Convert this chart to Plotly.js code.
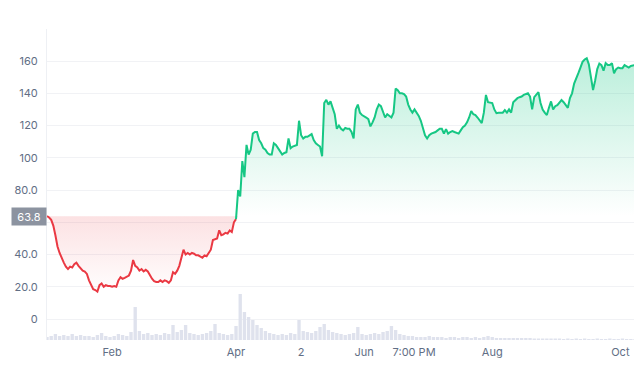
<!DOCTYPE html>
<html>
<head>
<meta charset="utf-8">
<script src="https://cdn.plot.ly/plotly-3.0.1.min.js"></script>
<style>
html,body{margin:0;padding:0;background:#fff;}
#chart{width:634px;height:366px;}
</style>
</head>
<body>
<div id="chart"></div>
<script>
// ---- data ----
const startDate = '2021-01-01';
const baseline = 63.8;
// daily price samples from startDate
const price = [
  63.8, 63, 61.5, 58, 52, 45, 41, 37.5, 35, 32.5,
  31, 32.5, 32, 34, 35, 33, 31.5, 30, 29.5, 28,
  24, 21, 18.5, 18, 17, 21, 22, 20, 21, 20.5,
  20.5, 20, 20.5, 20, 24, 26, 25, 25.5, 26, 27,
  30, 36.6, 33, 32, 30, 31, 29.5, 30.5, 29.5, 27,
  25, 23.5, 23, 23, 24, 23, 24, 23.5, 22.5, 24,
  29, 28, 30, 33, 38, 43, 40, 41, 40, 41,
  40.5, 39.5, 39.5, 38.5, 38, 39.5, 39, 41, 43, 49,
  49.5, 50, 55, 52, 52.5, 53.5, 53, 55, 54, 60,
  62, 80, 76, 98, 88, 108, 102, 105, 115, 116,
  116, 111, 109, 106, 105, 103, 102, 102, 109, 108,
  106, 104, 102, 103, 103.5, 112, 106, 107, 107.5, 108,
  123, 114, 112, 113, 113, 114, 114.7, 111, 109, 108,
  107, 101, 134, 136, 133, 135, 131, 127, 118, 120,
  118, 117, 118.5, 118, 118, 116, 112, 130, 133, 128,
  126.5, 126, 125, 124, 119.5, 122, 125, 130, 133, 132,
  129, 125, 127, 126, 125, 128, 143, 142, 140, 140,
  139.5, 138, 133, 130, 128, 130, 128, 126, 123, 118,
  114, 112, 114, 115, 115.5, 116, 117, 118, 118, 115,
  117.8, 115, 116, 116.6, 116, 115.5, 115, 117, 119, 120,
  122, 125, 129, 127, 126.5, 125, 123, 121.5, 128, 139,
  134.5, 134, 134, 130, 127.7, 128, 128, 128, 129.6, 128,
  130, 128, 134.5, 136, 137, 137.6, 138, 139, 139.5, 140,
  138, 130, 137.6, 139, 140.7, 134, 130, 128, 126.5, 131,
  135, 130, 132, 132.7, 134, 135.8, 134.5, 133, 131, 137,
  140, 146, 150, 152.5, 156, 159.5, 161, 161.8, 158, 150,
  142, 148, 155, 158.5, 157.5, 154, 158.7, 157.5, 157.5, 158.7,
  152.5, 155, 156, 155.6, 155.6, 157.5, 157, 156, 157, 157.5,
  157.5
];
// volume (millions, relative), one value every 2 days from startDate
const volume = [
  0.3, 0.4, 0.6, 0.4, 0.5, 0.4, 0.6, 0.4, 0.5, 0.4,
  0.4, 0.3, 0.5, 0.7, 0.4, 0.3, 0.4, 0.6, 0.5, 0.4,
  0.8, 3.3, 0.9, 0.6, 0.7, 0.5, 0.6, 0.5, 0.7, 0.6,
  1.5, 0.8, 1.0, 1.5, 0.7, 0.6, 0.5, 0.6, 0.7, 0.9,
  1.6, 0.7, 0.6, 0.5, 0.6, 1.4, 4.6, 2.8, 2.3, 2.0,
  1.5, 1.2, 0.9, 0.7, 0.6, 0.5, 0.6, 0.5, 0.7, 0.6,
  2.0, 0.9, 0.8, 0.7, 0.9, 1.3, 1.6, 1.0, 0.8, 0.7,
  0.6, 0.5, 0.6, 0.7, 1.3, 0.6, 0.5, 0.6, 0.7, 0.6,
  0.8, 0.9, 1.4, 1.0, 0.6, 0.5, 0.4, 0.4, 0.3, 0.3,
  0.3, 0.4, 0.3, 0.3, 0.3, 0.2, 0.3, 0.3, 0.2, 0.3,
  0.3, 0.2, 0.3, 0.2, 0.3, 0.4, 0.3, 0.2, 0.2, 0.2,
  0.2, 0.2, 0.2, 0.2, 0.2, 0.2, 0.15, 0.15, 0.15, 0.15,
  0.15, 0.15, 0.15, 0.1, 0.15, 0.1, 0.15, 0.1, 0.15, 0.1,
  0.1, 0.15, 0.1, 0.1, 0.15, 0.1, 0.1, 0.15, 0.1, 0.1,
  0.1
];
const tickDates = ['2021-02-01', '2021-04-01', '2021-05-02', '2021-06-01', '2021-06-24 19:00', '2021-08-01', '2021-10-01'];
const tickLabels = ['Feb', 'Apr', '2', 'Jun', '7:00 PM', 'Aug', 'Oct'];
const yTickVals = [0, 20, 40, 60, 80, 100, 120, 140, 160];
const yTickText = ['0', '20.0', '40.0', '', '80.0', '100', '120', '140', '160'];

// ---- build ----
const DAY = 86400000;
const t0 = new Date(startDate + 'T00:00:00Z').getTime();
const fmt = t => new Date(t).toISOString().slice(0, 19).replace('T', ' ');
const dates = price.map((_, i) => fmt(t0 + i * DAY));
const volDates = volume.map((_, i) => fmt(t0 + i * 2 * DAY));
const base = dates.map(() => baseline);
const upper = price.map(v => Math.max(v, baseline));
const lower = price.map(v => Math.min(v, baseline));
const split = price.findIndex((v, i) => i > 0 && v > baseline);
const GREEN = '#16c784', RED = '#ea3943';

const traces = [
  {x: volDates, y: volume, type: 'bar', yaxis: 'y2', marker: {color: '#dfe2ed', line: {width: 0}}, width: 1.6 * DAY, hoverinfo: 'skip', showlegend: false},
  {x: dates, y: base, mode: 'lines', line: {width: 0}, hoverinfo: 'skip', showlegend: false},
  {x: dates, y: upper, mode: 'lines', line: {width: 0}, fill: 'tonexty',
   fillgradient: {type: 'vertical', start: baseline, stop: 165, colorscale: [[0, 'rgba(22,199,132,0.0)'], [1, 'rgba(22,199,132,0.3)']]},
   hoverinfo: 'skip', showlegend: false},
  {x: dates, y: base, mode: 'lines', line: {width: 0}, hoverinfo: 'skip', showlegend: false},
  {x: dates, y: lower, mode: 'lines', line: {width: 0}, fill: 'tonexty',
   fillgradient: {type: 'vertical', start: 15, stop: baseline, colorscale: [[0, 'rgba(234,57,67,0.0)'], [1, 'rgba(234,57,67,0.15)']]},
   hoverinfo: 'skip', showlegend: false},
  {x: dates.slice(0, split), y: price.slice(0, split), mode: 'lines', line: {color: RED, width: 2}, showlegend: false},
  {x: dates.slice(split - 1), y: price.slice(split - 1), mode: 'lines', line: {color: GREEN, width: 2}, showlegend: false}
];

const FONT = {family: 'Inter, "Noto Sans", sans-serif', size: 11, color: '#616e85'};
const layout = {
  width: 634, height: 366,
  margin: {l: 47, r: 0, t: 29, b: 26},
  paper_bgcolor: '#ffffff', plot_bgcolor: '#ffffff',
  font: FONT,
  showlegend: false,
  xaxis: {
    type: 'date',
    range: ['2021-01-01', '2021-10-07 12:00'],
    tickvals: tickDates, ticktext: tickLabels,
    showgrid: false, zeroline: false, showline: false,
    ticks: '', ticklabelstandoff: 4,
    tickfont: FONT
  },
  yaxis: {
    range: [-13, 179.9],
    tickvals: yTickVals, ticktext: yTickText,
    showgrid: true, gridcolor: '#f1f2f5', gridwidth: 1,
    zeroline: false, showline: true, linecolor: '#eef0f4',
    ticks: '', ticklabelstandoff: 6,
    tickfont: FONT
  },
  yaxis2: {
    overlaying: 'y', range: [0, 31.1], visible: false, fixedrange: true
  },
  annotations: [{
    xref: 'paper', yref: 'y', x: 0, y: baseline, xanchor: 'right', yanchor: 'middle',
    text: '63.8', showarrow: false, bgcolor: '#8c93a0', borderpad: 0,
    width: 34, height: 17,
    font: {family: FONT.family, size: 11, color: '#ffffff'}
  }]
};
Plotly.newPlot('chart', traces, layout, {displayModeBar: false, staticPlot: true});
</script>
</body>
</html>
